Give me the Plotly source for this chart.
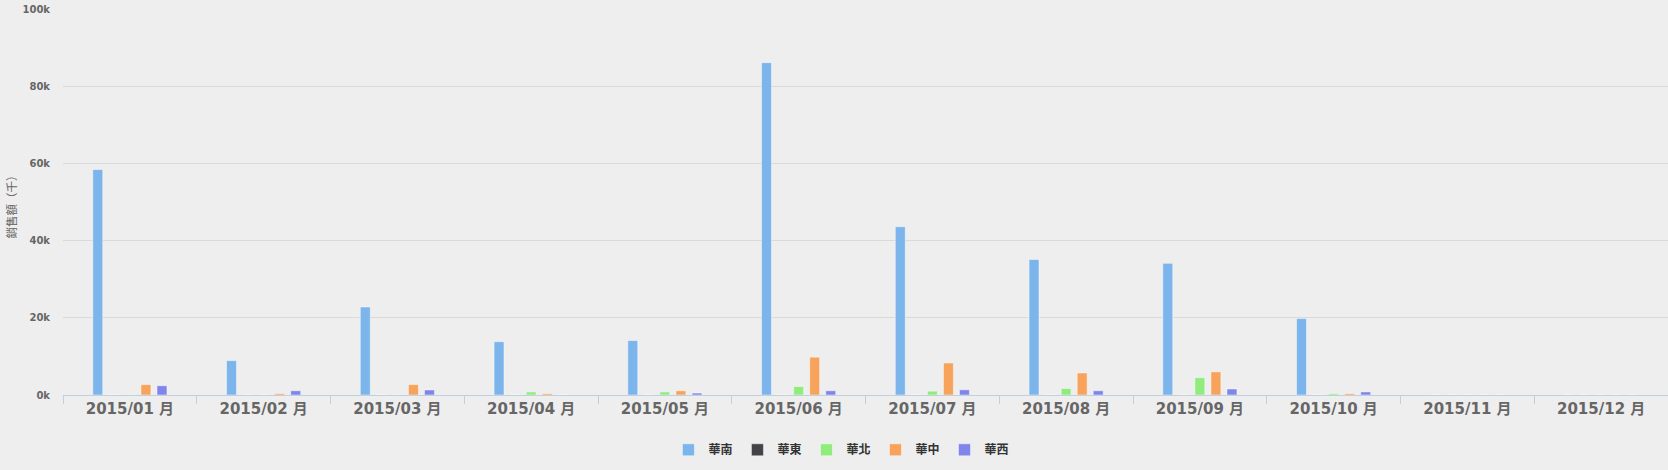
import plotly.graph_objects as go

# monthly sales by region, in thousands
months = ["2015/01 月", "2015/02 月", "2015/03 月", "2015/04 月", "2015/05 月", "2015/06 月",
          "2015/07 月", "2015/08 月", "2015/09 月", "2015/10 月", "2015/11 月", "2015/12 月"]

huanan = [58.4, 8.9, 22.8, 13.8, 14.1, 86.1, 43.6, 35.1, 34.1, 19.8, 0, 0]
huadong = [0, 0, 0, 0, 0, 0, 0, 0, 0, 0, 0, 0]
huabei = [0.05, 0, 0.05, 0.8, 0.8, 2.2, 1.0, 1.7, 4.5, 0.35, 0, 0]
huazhong = [2.7, 0.35, 2.7, 0.35, 1.1, 9.8, 8.3, 5.7, 6.0, 0.35, 0, 0]
huaxi = [2.4, 1.1, 1.3, 0, 0.5, 1.1, 1.35, 1.1, 1.55, 0.8, 0, 0]

y_ticks = [0, 20, 40, 60, 80, 100]
y_tick_labels = ["0k", "20k", "40k", "60k", "80k", "100k"]

series = [
    ("華南", huanan, "#7cb5ec"),
    ("華東", huadong, "#434348"),
    ("華北", huabei, "#90ed7d"),
    ("華中", huazhong, "#f7a35c"),
    ("華西", huaxi, "#8085e9"),
]

FONT = "DejaVu Sans, Noto Sans CJK TC, sans-serif"

fig = go.Figure()
for name, vals, color in series:
    fig.add_trace(go.Bar(
        x=months, y=vals, name=name,
        marker=dict(color=color, line=dict(color="rgba(255,255,255,0.45)", width=1)),
    ))

fig.update_layout(
    width=1668, height=470,
    margin=dict(l=63, r=0, t=9, b=75),
    paper_bgcolor="#eeeeee",
    plot_bgcolor="#eeeeee",
    barmode="group",
    bargap=0.4,
    bargroupgap=0.38,
    font=dict(family=FONT, color="#666666"),
    showlegend=True,
    legend=dict(
        orientation="h",
        x=0.485, xanchor="center",
        y=-0.142, yanchor="middle",
        font=dict(family=FONT, size=12, color="#333333", weight="bold"),
        itemwidth=30,
        bgcolor="rgba(0,0,0,0)",
    ),
)

fig.update_xaxes(
    type="category",
    showline=True, linecolor="#c0d0e0", linewidth=1,
    ticks="outside", ticklen=8, tickcolor="#c0d0e0",
    tickson="boundaries",
    showgrid=False,
    tickfont=dict(family=FONT, size=15, color="#666666", weight="bold"),
)

fig.update_yaxes(
    range=[0, 100],
    tickvals=y_ticks, ticktext=y_tick_labels,
    showgrid=True, gridcolor="#dadada", gridwidth=1,
    zeroline=False,
    ticks="", ticklabelstandoff=12,
    tickfont=dict(family=FONT, size=10, color="#666666", weight="bold"),
)

# rotated y-axis title placed like the original (CJK font so the full-width brackets keep their width)
fig.add_annotation(
    text="銷售額（千）",
    xref="paper", yref="paper",
    x=-0.0324, y=0.496,
    xanchor="center", yanchor="middle",
    textangle=-90, showarrow=False,
    font=dict(family="Noto Sans CJK TC, sans-serif", size=11.5, color="#666666"),
)

# drop the default page margin so the chart sits flush in the window
fig.write_html(
    "out.html",
    config={"displayModeBar": False},
    post_script="document.body.style.margin='0';document.body.style.background='#eeeeee';",
)
